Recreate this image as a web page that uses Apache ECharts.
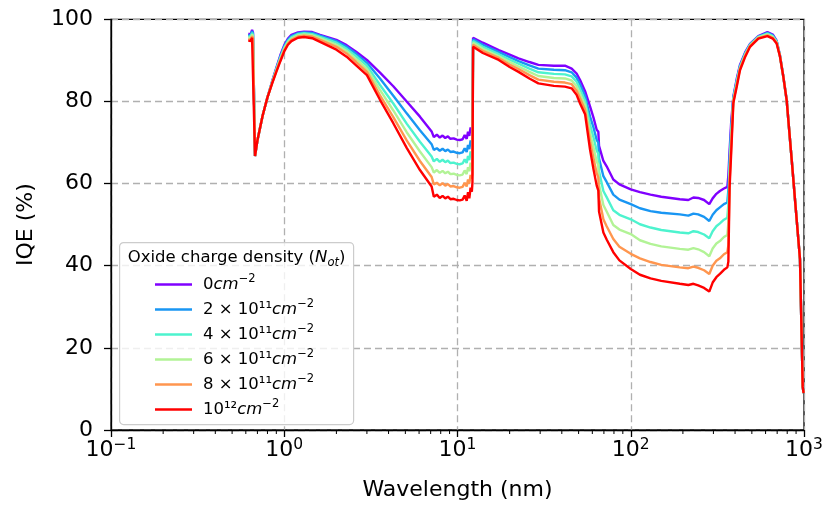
<!DOCTYPE html>
<html>
<head>
<meta charset="utf-8">
<script src="https://cdn.jsdelivr.net/npm/echarts@6.0.0/dist/echarts.min.js"></script>
<style>
  html, body { margin: 0; padding: 0; background: #fff; }
  #chart { width: 827px; height: 506px; }
</style>
</head>
<body>
<div id="chart"></div>
<script>
// Wavelength samples (nm), shared by every curve
const wavelength = [
  0.620, 0.640, 0.652, 0.660, 0.668, 0.678, 0.700, 0.750, 0.800, 0.850, 0.900, 0.950, 1.00, 1.05, 1.10, 1.20, 1.30, 1.45, 1.61, 2.00, 2.29, 2.60, 3.00, 3.57, 4.26, 5.09, 6.07, 7.09,
  7.30, 7.60, 7.90, 8.20, 8.50, 8.80, 9.10, 9.50, 9.90, 10.3, 10.7, 11.0, 11.3, 11.5, 11.7, 11.9, 12.1, 12.2, 12.3,
  14.0, 17.3, 20.0, 22.5, 26.0, 29.3, 36.0, 41.7, 45.6, 48.7, 51.0, 54.5, 58.2, 61.0, 63.6, 65.0, 65.6, 69.5, 72.6, 79.3, 86.0,
  100, 113, 130, 150, 192, 215, 230, 245, 265, 284, 297, 312, 327, 345, 361, 366, 372, 380, 391, 409, 427, 458, 488, 545, 615, 660, 695, 726, 760, 794, 850, 900, 948, 970, 983, 995
];

// IQE (%) for each oxide charge density
const iqeNot0 = [
  96.5, 96.3, 97.4, 96.8, 96.9, 66.7, 70.5, 76.5, 81.0, 84.8, 88.2, 91.3, 93.7, 95.3, 96.2, 96.8, 97.0, 96.9, 96.2, 95.0, 93.7, 92.1, 90.1, 87.0, 83.7, 80.0, 76.3, 72.7,
  71.3, 71.9, 71.2, 71.7, 71.1, 71.5, 70.9, 71.0, 70.7, 70.6, 70.8, 71.8, 70.9, 72.6, 71.6, 73.7, 72.8, 74.0, 95.5,
  94.3, 92.5, 91.4, 90.5, 89.6, 88.9, 88.7, 88.7, 88.0, 86.8, 85.2, 82.5, 78.8, 76.0, 73.1, 72.6, 69.2, 65.5, 64.2, 61.0, 59.8,
  58.6, 57.9, 57.3, 56.8, 56.2, 56.0, 56.6, 56.5, 56.0, 55.0, 56.4, 57.5, 58.2, 58.8, 59.2, 62.0, 68.0, 75.0, 81.2, 85.5, 88.9, 92.0, 94.0, 95.9, 96.9, 96.3, 94.8, 91.3, 86.0, 80.4, 65.6, 53.0, 41.6, 22.0, 10.5, 9.0
];
const iqeNot2e11 = [
  96.2, 96.0, 97.1, 96.5, 96.6, 66.7, 70.5, 76.5, 81.0, 84.7, 88.0, 91.0, 93.4, 95.0, 95.9, 96.6, 96.8, 96.7, 96.0, 94.7, 93.3, 91.6, 89.4, 85.6, 81.4, 77.1, 73.0, 69.6,
  68.2, 68.6, 68.0, 68.5, 67.9, 68.3, 67.7, 67.8, 67.5, 67.4, 67.6, 68.6, 67.7, 69.4, 68.4, 70.5, 69.6, 70.8, 95.1,
  93.8, 92.0, 90.8, 89.8, 88.8, 88.0, 87.7, 87.6, 87.1, 85.8, 84.1, 81.3, 76.3, 73.6, 70.6, 70.0, 66.1, 61.8, 60.4, 57.3, 56.1,
  55.0, 54.0, 53.3, 52.9, 52.5, 52.2, 52.7, 52.5, 51.9, 50.9, 52.4, 53.5, 54.2, 55.0, 55.4, 58.5, 66.0, 73.5, 80.9, 85.1, 88.6, 91.8, 93.9, 95.8, 96.7, 96.1, 94.7, 91.2, 86.0, 80.4, 65.6, 53.0, 41.6, 22.0, 10.5, 9.0
];
const iqeNot4e11 = [
  95.9, 95.7, 96.7, 96.2, 96.2, 66.7, 70.5, 76.5, 81.0, 84.6, 87.8, 90.7, 93.1, 94.7, 95.6, 96.4, 96.6, 96.4, 95.7, 94.3, 92.8, 91.0, 88.7, 84.0, 79.5, 74.6, 70.2, 66.6,
  65.4, 66.0, 65.3, 65.8, 65.2, 65.6, 65.0, 65.1, 64.8, 64.7, 64.9, 65.9, 65.0, 66.7, 65.7, 67.8, 66.9, 68.1, 94.7,
  93.3, 91.5, 90.2, 89.2, 88.0, 87.1, 86.7, 86.6, 86.1, 84.8, 83.0, 80.2, 74.3, 71.2, 68.0, 67.3, 63.0, 58.2, 56.7, 53.5, 52.4,
  51.3, 50.1, 49.3, 48.7, 48.1, 47.9, 48.4, 48.2, 47.6, 46.7, 48.4, 49.6, 50.3, 51.2, 51.7, 55.0, 64.0, 72.0, 80.6, 84.8, 88.4, 91.6, 93.8, 95.7, 96.5, 95.9, 94.6, 91.2, 86.0, 80.4, 65.6, 53.0, 41.6, 22.0, 10.5, 9.0
];
const iqeNot6e11 = [
  95.6, 95.4, 96.3, 95.8, 95.9, 66.7, 70.5, 76.5, 81.0, 84.5, 87.6, 90.4, 92.8, 94.4, 95.3, 96.1, 96.3, 96.1, 95.4, 93.8, 92.3, 90.3, 87.9, 82.8, 77.8, 72.5, 67.8, 64.0,
  62.7, 63.3, 62.6, 63.1, 62.5, 62.9, 62.3, 62.4, 62.1, 62.0, 62.2, 63.2, 62.3, 64.0, 63.0, 65.1, 64.2, 65.4, 94.3,
  92.8, 91.0, 89.6, 88.5, 87.2, 86.2, 85.7, 85.6, 85.1, 83.7, 81.8, 79.1, 72.3, 68.7, 65.4, 64.5, 59.8, 54.8, 53.2, 49.9, 48.8,
  47.7, 46.2, 45.3, 44.7, 44.1, 43.9, 44.3, 44.0, 43.3, 42.3, 44.2, 45.4, 46.0, 47.0, 47.5, 50.5, 62.0, 70.5, 80.3, 84.4, 88.1, 91.4, 93.6, 95.6, 96.3, 95.7, 94.4, 91.1, 86.0, 80.4, 65.6, 53.0, 41.6, 22.0, 10.5, 9.0
];
const iqeNot8e11 = [
  95.2, 95.0, 95.9, 95.4, 95.5, 66.7, 70.5, 76.5, 81.0, 84.4, 87.4, 90.1, 92.5, 94.1, 95.0, 95.8, 96.0, 95.8, 95.0, 93.3, 91.7, 89.6, 87.2, 81.5, 76.2, 70.5, 65.5, 61.6,
  59.8, 60.2, 59.6, 60.1, 59.5, 59.9, 59.3, 59.4, 59.1, 59.0, 59.2, 60.2, 59.3, 61.0, 60.0, 62.1, 61.2, 62.4, 93.8,
  92.3, 90.6, 89.0, 87.9, 86.4, 85.3, 84.8, 84.6, 84.2, 82.6, 80.7, 78.0, 70.3, 66.1, 62.5, 61.5, 56.5, 51.3, 49.6, 46.5, 44.6,
  42.9, 41.8, 40.9, 40.2, 39.6, 39.4, 39.8, 39.5, 38.9, 38.0, 40.0, 41.2, 41.8, 42.8, 43.3, 45.0, 60.5, 69.0, 80.0, 84.0, 87.9, 91.2, 93.5, 95.4, 96.1, 95.5, 94.3, 91.1, 86.0, 80.4, 65.6, 53.0, 41.6, 22.0, 10.5, 9.0
];
const iqeNot1e12 = [
  94.8, 94.7, 95.5, 95.1, 95.1, 66.7, 70.5, 76.5, 81.0, 84.3, 87.2, 89.8, 92.2, 93.8, 94.7, 95.5, 95.7, 95.4, 94.5, 92.6, 90.9, 88.8, 86.4, 80.4, 74.7, 68.7, 63.3, 59.3,
  56.8, 57.3, 56.5, 57.0, 56.4, 56.8, 56.2, 56.3, 56.0, 55.9, 56.1, 57.1, 55.8, 57.9, 56.4, 59.0, 58.0, 60.3, 93.3,
  91.8, 90.1, 88.4, 87.2, 85.6, 84.4, 83.8, 83.6, 83.2, 81.6, 79.5, 76.9, 68.3, 63.4, 59.5, 58.3, 53.2, 48.1, 46.4, 43.3, 41.3,
  39.2, 37.8, 36.9, 36.3, 35.6, 35.3, 35.6, 35.2, 34.6, 33.7, 35.9, 37.2, 38.0, 39.0, 39.6, 41.0, 59.0, 67.5, 79.6, 83.6, 87.6, 90.9, 93.3, 95.3, 95.9, 95.3, 94.1, 91.0, 86.0, 80.4, 65.6, 53.0, 41.6, 22.0, 10.5, 9.0
];

// Legend text for each density (before the cm^-2 unit)
const densityLabels = ['0', '2 × 10¹¹', '4 × 10¹¹', '6 × 10¹¹', '8 × 10¹¹', '10¹²'];
const curveColors = ['#8000ff', '#1996f3', '#4df3ce', '#b2f396', '#ff964f', '#ff0000'];
const curveValues = [iqeNot0, iqeNot2e11, iqeNot4e11, iqeNot6e11, iqeNot8e11, iqeNot1e12];

// Axis ticks
const yTickStep = 20;
const xMinorTicks = [
  0.2, 0.3, 0.4, 0.5, 0.6, 0.7, 0.8, 0.9,
  2, 3, 4, 5, 6, 7, 8, 9,
  20, 30, 40, 50, 60, 70, 80, 90,
  200, 300, 400, 500, 600, 700, 800, 900
];

const FONT = 'DejaVu Sans';
const seriesNames = densityLabels.map(d => d + ' cm⁻²');

const lineSeries = curveValues.map((vals, k) => ({
  name: seriesNames[k],
  type: 'line',
  data: wavelength.map((w, i) => [w, vals[i]]),
  showSymbol: false,
  symbol: 'none',
  smooth: false,
  lineStyle: { color: curveColors[k], width: 2.4 },
  itemStyle: { color: curveColors[k] },
  z: 2 + k * 0.01,
  silent: true
}));

// minor ticks on the log axis, drawn through the axis scale
const minorTickSeries = {
  type: 'custom',
  silent: true,
  clip: false,
  z: 5,
  data: xMinorTicks.map(v => [v, 0]),
  renderItem: (params, api) => {
    const p = api.coord([api.value(0), 0]);
    return {
      type: 'line',
      shape: { x1: p[0], y1: p[1], x2: p[0], y2: p[1] + 4 },
      style: { stroke: '#000', lineWidth: 1 }
    };
  }
};

const legendRich = {
  n: { fontFamily: FONT, fontSize: 16.5, lineHeight: 22, color: '#000' },
  i: { fontFamily: FONT, fontStyle: 'italic', fontSize: 16.5, lineHeight: 22, color: '#000' },
  s: { fontFamily: FONT, fontSize: 11.5, lineHeight: 12, verticalAlign: 'top', color: '#000' }
};

const chart = echarts.init(document.getElementById('chart'), null, { renderer: 'canvas' });
chart.setOption({
  animation: false,
  backgroundColor: '#fff',
  grid: {
    left: 111, right: 23, top: 19.3, bottom: 74,
    show: true, borderColor: '#000', borderWidth: 1.3, backgroundColor: 'transparent'
  },
  xAxis: {
    type: 'log',
    logBase: 10,
    min: 0.1,
    max: 1000,
    name: 'Wavelength (nm)',
    nameLocation: 'middle',
    nameGap: 49,
    nameTextStyle: { fontFamily: FONT, fontSize: 22, color: '#000' },
    axisLine: { show: true, onZero: false, lineStyle: { color: '#000', width: 1.3 } },
    axisTick: { show: true, inside: false, length: 7, lineStyle: { color: '#000', width: 1.3 } },
    axisLabel: {
      margin: 7,
      formatter: v => {
        const e = Math.round(Math.log10(v));
        return '{b|10}{s|' + (e < 0 ? '−' + (-e) : e) + '}';
      },
      rich: {
        b: { fontFamily: FONT, fontSize: 22, lineHeight: 26, color: '#000' },
        s: { fontFamily: FONT, fontSize: 15.5, lineHeight: 11, verticalAlign: 'top', color: '#000' }
      }
    },
    splitLine: { show: true, lineStyle: { color: '#b0b0b0', width: 1.3, type: [7, 4] } },
    minorTick: { show: false },
    minorSplitLine: { show: false }
  },
  yAxis: {
    type: 'value',
    min: 0,
    max: 100,
    interval: yTickStep,
    name: 'IQE (%)',
    nameLocation: 'middle',
    nameGap: 74,
    nameTextStyle: { fontFamily: FONT, fontSize: 22, color: '#000' },
    axisLine: { show: true, lineStyle: { color: '#000', width: 1.3 } },
    axisTick: { show: true, inside: false, length: 7, lineStyle: { color: '#000', width: 1.3 } },
    axisLabel: { margin: 18, fontFamily: FONT, fontSize: 22, color: '#000' },
    splitLine: { show: true, lineStyle: { color: '#b0b0b0', width: 1.3, type: [7, 4] } }
  },
  legend: {
    show: true,
    orient: 'vertical',
    left: 155,
    top: 273.5,
    padding: 0,
    itemWidth: 37,
    itemHeight: 2.5,
    itemGap: 5.5,
    icon: 'rect',
    selectedMode: false,
    data: seriesNames,
    formatter: name => {
      const k = seriesNames.indexOf(name);
      return '{n|' + densityLabels[k] + '}{i|cm}{s|−2}';
    },
    textStyle: { fontFamily: FONT, fontSize: 16.5, color: '#000', rich: legendRich, padding: [0, 0, 0, 6] },
    z: 10
  },
  graphic: [
    {
      type: 'rect',
      left: 119, top: 242,
      shape: { width: 234, height: 182, r: 4 },
      style: { fill: 'rgba(255,255,255,0.8)', stroke: '#cccccc', lineWidth: 1.2 },
      z: 3
    },
    {
      type: 'text',
      x: 236.5, y: 258,
      style: {
        text: '{t|Oxide charge density (}{v|N}{u|ot}{t|)}',
        align: 'center',
        verticalAlign: 'middle',
        rich: {
          t: { fontFamily: FONT, fontSize: 16.5, lineHeight: 22, fill: '#000', color: '#000' },
          v: { fontFamily: FONT, fontStyle: 'italic', fontSize: 16.5, lineHeight: 22, fill: '#000', color: '#000' },
          u: { fontFamily: FONT, fontStyle: 'italic', fontSize: 11.5, lineHeight: 12, verticalAlign: 'bottom', fill: '#000', color: '#000' }
        }
      },
      z: 10
    }
  ],
  series: lineSeries.concat([minorTickSeries])
});
</script>
</body>
</html>
